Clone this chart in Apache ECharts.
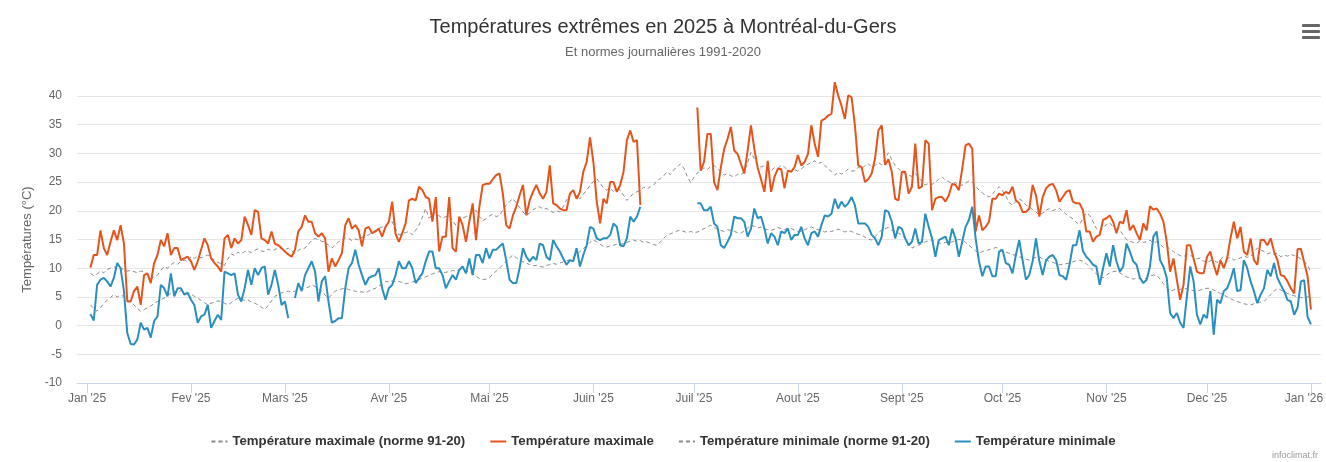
<!DOCTYPE html>
<html>
<head>
    <meta charset="utf-8">
    <title>Températures extrêmes 2025</title>
    <script src="https://cdn.jsdelivr.net/npm/echarts@6/dist/echarts.min.js"></script>
    <style>
        html, body { margin: 0; padding: 0; background: #fff; }
    </style>
</head>
<body>
<div id="main" style="width: 1326px;height:462px;"></div>
<script type="text/javascript">
    // daily values for 2025, one per day from 1 Jan to 31 Dec (null = no reading)
    var tmax = [
        10.1, 12.3, 12.3, 16.6, 13.5, 12.3, 14.6, 16.6, 14.9, 17.5, 14.3, 4.2, 4.2, 6.0, 6.8, 3.6, 8.8, 9.1, 7.4, 10.9, 12.3, 14.9, 13.8, 16.1, 12.3, 13.5, 13.5, 11.4, 11.7, 12.0, 11.2,
        9.7, 11.2, 13.2, 15.2, 14.0, 11.7, 10.9, 10.3, 9.4, 15.2, 15.8, 13.5, 15.2, 14.3, 14.9, 19.0, 17.5, 15.8, 20.1, 19.8, 15.2, 14.9, 14.3, 16.4, 14.3, 14.0, 13.5, 12.9,
        12.4, 12.0, 13.2, 16.4, 17.2, 19.2, 18.1, 18.1, 16.1, 15.5, 16.1, 15.2, 9.4, 11.7, 10.3, 11.4, 12.6, 17.5, 18.7, 16.9, 17.5, 16.6, 13.8, 16.9, 17.2, 16.1, 16.4, 16.9, 15.5, 17.2, 18.1,
        21.6, 16.0, 14.6, 16.1, 17.8, 21.8, 22.1, 21.8, 24.2, 23.6, 22.4, 22.1, 18.1, 22.4, 12.9, 15.5, 15.5, 22.4, 13.5, 12.9, 19.0, 17.5, 14.6, 18.1, 21.3, 14.9, 20.7, 24.5, 24.7, 24.7,
        25.5, 26.2, 26.5, 23.0, 17.5, 16.9, 19.2, 20.7, 22.7, 24.5, 19.2, 21.8, 23.3, 24.5, 23.0, 22.1, 23.3, 27.9, 21.3, 21.0, 20.4, 20.1, 20.1, 23.0, 23.6, 22.1, 23.3, 26.8, 28.5, 32.8, 28.5,
        21.6, 17.8, 22.1, 21.3, 25.0, 25.0, 23.3, 24.5, 26.8, 32.3, 34.0, 32.0, 32.3, 21.0, null, null, null, null, null, null, null, null, null, null, null, null, null, null, null, null,
        38.0, 27.0, 28.5, 33.4, 33.4, 25.0, 23.6, 27.5, 30.8, 32.5, 34.6, 30.5, 29.9, 28.2, 26.5, 30.5, 34.9, 30.8, 27.5, 25.5, 23.3, 28.7, 23.3, 25.9, 27.3, 27.3, 23.9, 27.0, 26.8, 27.6, 29.7,
        27.9, 28.5, 29.9, 34.9, 31.7, 29.4, 35.7, 36.0, 36.6, 36.9, 42.4, 40.1, 38.3, 36.0, 40.1, 39.8, 34.9, 27.9, 27.6, 25.0, 25.5, 26.5, 29.1, 34.0, 34.9, 28.0, 29.0, 26.8, 22.1, 21.8, 26.8,
        26.8, 23.0, 24.2, 31.7, 23.9, 24.2, 32.3, 31.7, 20.1, 22.1, 22.4, 22.4, 21.6, 22.7, 24.7, 24.5, 23.6, 27.3, 31.4, 31.7, 30.8, 16.4, 19.2, 16.6, 17.2, 18.1, 22.1, 22.1, 23.0, 22.7,
        23.3, 23.0, 24.2, 21.8, 21.3, 19.8, 19.8, 20.4, 24.5, 22.7, 19.0, 22.4, 23.9, 24.5, 24.7, 23.6, 21.6, 22.4, 23.3, 23.6, 21.6, 21.3, 21.3, 20.1, 16.4, 16.4, 14.6, 15.5, 15.8, 18.4, 18.7,
        19.2, 18.1, 16.1, 18.1, 17.8, 20.1, 16.6, 17.5, 16.1, 14.9, 17.8, 16.6, 20.8, 20.2, 20.4, 19.5, 18.1, 14.6, 9.4, 11.7, 8.0, 4.5, 7.1, 14.0, 14.0, 11.7, 9.4, 9.1, 9.1, 12.0,
        12.9, 10.6, 8.8, 11.4, 10.0, 11.7, 15.2, 18.1, 15.2, 17.2, 12.9, 12.3, 15.2, 11.4, 10.6, 14.9, 14.9, 14.0, 15.2, 12.9, 11.4, 8.8, 8.6, 7.7, 6.5, 5.6, 13.3, 13.4, 11.0, 8.6, 2.8
    ];
    var tmin = [
        2.0, 0.9, 7.1, 8.0, 8.3, 7.7, 6.8, 8.3, 10.9, 10.0, 6.0, -1.3, -3.2, -3.3, -2.4, 0.5, -0.7, -0.4, -2.1, 0.8, 1.6, 7.1, 6.5, 5.1, 9.1, 5.1, 6.5, 6.5, 5.4, 5.7, 4.5,
        3.6, 0.5, 1.6, 1.9, 3.6, -0.4, 0.8, 1.9, 1.0, 9.4, 9.1, 8.8, 9.1, 5.4, 4.2, 6.5, 9.7, 7.1, 10.0, 8.8, 10.0, 10.3, 5.4, 7.1, 9.7, 7.1, 3.6, 4.2,
        1.3, null, 4.8, 7.4, 6.0, 8.8, 10.0, 11.2, 9.4, 4.2, 7.7, 8.6, 4.2, 0.5, 0.8, 1.3, 1.3, 6.5, 10.0, 10.9, 13.2, 10.6, 8.8, 7.1, 8.3, 8.6, 8.8, 10.0, 6.5, 4.5, 6.5,
        7.1, 8.8, 11.2, 10.0, 10.0, 11.2, 10.0, 7.4, 8.3, 9.1, 11.2, 12.9, 12.9, 10.0, 10.0, 8.8, 6.5, 7.7, 8.8, 8.0, 9.7, 10.3, 9.1, 11.7, 8.8, 12.3, 12.3, 10.9, 13.5, 11.7,
        13.2, 13.2, 13.8, 14.3, 11.4, 8.0, 7.4, 7.4, 10.0, 13.5, 12.0, 11.2, 12.0, 11.4, 14.3, 14.0, 12.0, 11.4, 14.9, 13.8, 12.9, 11.7, 10.6, 11.4, 11.2, 13.5, 10.3, 12.3, 14.0, 17.2, 16.9,
        15.2, 14.9, 15.2, 15.2, 15.8, 17.8, 17.2, 14.0, 13.8, 15.2, 19.0, 18.1, 19.0, 20.7, null, null, null, null, null, null, null, null, null, null, null, null, null, null, null, null,
        21.3, 21.3, 20.1, 20.1, 20.7, 17.8, 17.2, 14.0, 13.5, 14.6, 15.8, 19.0, 18.7, 18.7, 18.1, 15.5, 16.9, 20.4, 18.7, 19.0, 16.9, 14.3, 16.1, 15.5, 14.0, 16.4, 16.1, 16.9, 14.9, 15.8, 15.8,
        17.2, 15.2, 14.0, 16.1, 16.4, 15.5, 17.5, 19.2, 19.0, 19.5, 22.1, 20.4, 21.6, 20.7, 21.3, 22.4, 21.0, 17.8, 17.8, 17.8, 17.2, 15.8, 15.2, 14.0, 15.5, 20.1, 19.8, 18.1, 15.2, 17.2, 16.9,
        15.2, 14.0, 14.6, 16.9, 14.3, 14.6, 19.5, 17.2, 15.2, 12.0, 14.9, 15.2, 15.5, 14.0, 16.9, 15.2, 12.0, 14.6, 17.2, 18.4, 20.7, 15.2, 11.2, 8.6, 10.3, 10.3, 8.6, 8.6, 12.9, 13.2,
        10.9, 10.6, 9.1, 12.3, 14.9, 11.4, 8.0, 8.8, 11.2, 15.2, 11.2, 8.8, 11.4, 12.0, 12.3, 11.4, 8.8, 8.6, 8.0, 10.6, 14.0, 14.0, 16.6, 13.0, 12.0, 11.4, 10.6, 10.3, 7.1, 10.0, 12.6,
        10.3, 14.0, 11.2, 9.4, 10.3, 14.3, 12.9, 11.2, 10.6, 8.3, 7.4, 8.0, 10.3, 15.5, 16.4, 11.4, 10.3, 8.3, 2.2, 1.3, 2.2, 0.5, -0.4, 5.1, 10.3, 7.7, 1.9, 0.2, 1.9, 1.3,
        6.0, -1.6, 4.5, 3.9, 6.0, 6.5, 8.0, 10.0, 6.0, 6.2, 11.4, 10.0, 7.7, 6.0, 3.9, 5.4, 6.5, 9.7, 8.6, 10.9, 8.3, 7.1, 6.0, 4.5, 4.2, 1.9, 3.1, 7.7, 7.9, 1.5, 0.2
    ];
    // daily normals 1991-2020
    var normMax = [
        9.1, 8.7, 9.0, 9.5, 9.2, 9.8, 10.0, 10.3, 9.9, 10.1, 9.7, 9.5, 9.6, 9.4, 9.2, 9.5, 9.4, 8.9, 8.2, 8.5, 8.8, 9.6, 10.3, 10.0, 10.6, 11.0, 10.7, 11.2, 11.4, 11.1, 12.0,
        11.7, 12.1, 11.8, 12.0, 12.3, 11.8, 11.4, 11.0, 10.8, 10.5, 11.6, 12.5, 12.2, 12.8, 12.5, 12.9, 13.0, 12.7, 13.1, 13.4, 13.0, 12.9, 13.3, 13.1, 13.2, 13.6, 13.4, 13.2,
        13.5, 13.0, 12.6, 13.1, 13.4, 13.5, 14.2, 14.8, 15.2, 14.9, 14.7, 14.6, 14.0, 13.5, 14.1, 14.6, 14.9, 15.3, 15.2, 14.8, 15.1, 14.9, 15.4, 15.6, 15.8, 16.2, 16.6, 16.9, 17.2, 17.5, 17.8,
        18.1, 16.9, 15.8, 16.0, 16.2, 16.4, 15.8, 16.6, 17.5, 18.9, 20.4, 18.7, 19.3, 19.8, 19.1, 18.7, 19.0, 19.2, 18.3, 17.5, 18.2, 18.7, 19.0, 19.2, 19.7, 20.1, 19.0, 18.3, 18.6, 19.1,
        19.4, 19.0, 19.2, 20.1, 21.0, 21.6, 22.1, 21.4, 20.6, 19.8, 19.2, 19.6, 20.2, 20.5, 20.7, 20.3, 20.4, 20.1, 19.7, 20.0, 19.8, 20.7, 21.9, 22.8, 23.3, 22.6, 22.1, 22.9, 23.6, 24.4, 25.1,
        25.6, 24.8, 24.0, 23.6, 23.9, 23.4, 23.8, 23.6, 22.7, 21.8, 22.4, 23.1, 23.3, 23.6, 24.1, 23.8, 24.2, 24.5, 25.3, 25.6, 26.1, 26.8, 26.3, 27.2, 27.6, 28.2, 27.4, 26.0, 24.9, 25.8,
        26.6, 27.0, 27.5, 27.2, 27.7, 27.9, 27.3, 26.8, 26.2, 26.5, 26.1, 25.9, 26.4, 26.3, 26.8, 28.4, 30.2, 29.1, 28.0, 27.6, 27.9, 27.3, 27.0, 27.5, 27.4, 27.9, 27.6, 27.1, 26.8, 27.2, 26.9,
        27.3, 27.8, 28.1, 28.4, 28.7, 28.2, 28.5, 27.9, 27.4, 26.8, 26.2, 26.7, 26.4, 26.8, 27.3, 26.9, 27.0, 27.6, 27.3, 27.9, 28.2, 27.6, 27.9, 28.4, 28.0, 29.1, 30.1, 28.9, 27.9, 27.3, 26.8,
        26.5, 26.2, 26.0, 26.5, 25.8, 25.1, 24.5, 24.8, 24.6, 25.0, 25.5, 25.9, 25.3, 25.1, 24.7, 24.9, 24.4, 24.5, 24.8, 25.2, 25.0, 24.3, 23.6, 23.1, 22.7, 22.4, 22.9, 23.6, 24.2, 23.5,
        22.6, 21.4, 21.0, 21.6, 22.1, 21.7, 21.0, 20.7, 20.2, 19.8, 19.2, 19.6, 20.1, 20.4, 20.0, 20.3, 20.4, 19.9, 19.4, 19.0, 18.6, 18.0, 17.6, 18.7, 19.6, 19.2, 18.1, 16.9, 16.4, 16.9, 17.6,
        17.9, 17.2, 16.8, 16.6, 15.8, 15.0, 14.7, 14.5, 14.3, 14.8, 14.5, 14.6, 14.9, 14.4, 14.6, 14.2, 13.6, 13.8, 13.3, 12.9, 12.5, 12.2, 12.0, 12.4, 12.2, 12.0, 11.6, 11.8, 11.2, 11.0,
        11.3, 11.4, 11.0, 11.5, 12.0, 11.7, 11.9, 11.4, 11.6, 11.8, 12.1, 11.9, 12.0, 12.8, 13.5, 13.2, 12.9, 12.5, 12.7, 12.4, 12.6, 12.0, 12.3, 12.1, 12.4, 12.2, 12.0, 11.6, 11.1, 10.6, 9.2
    ];
    var normMin = [
        3.6, 3.0, 2.5, 3.1, 3.9, 4.4, 4.9, 5.4, 5.0, 5.3, 5.1, 4.6, 4.1, 3.6, 3.0, 2.5, 2.8, 3.1, 3.4, 3.9, 4.2, 4.5, 4.8, 5.3, 5.6, 6.0, 5.7, 6.1, 6.0, 5.7, 5.5,
        5.1, 4.8, 4.4, 4.0, 3.6, 3.9, 4.1, 4.3, 4.2, 3.9, 3.6, 4.0, 4.4, 4.8, 4.6, 4.4, 4.5, 4.1, 3.9, 3.6, 3.2, 2.8, 3.5, 4.3, 5.1, 5.4, 5.7, 5.9,
        6.0, 5.8, 6.0, 6.2, 6.3, 6.5, 6.7, 7.1, 6.8, 6.4, 6.0, 5.3, 4.8, 5.4, 6.0, 6.2, 6.4, 6.5, 6.3, 6.1, 6.0, 5.8, 5.9, 5.7, 6.0, 6.3, 6.5, 6.9, 7.2, 7.7, 7.6,
        7.8, 7.6, 7.7, 7.5, 7.3, 7.4, 7.6, 7.8, 8.0, 8.3, 8.5, 8.8, 9.0, 9.2, 9.4, 9.1, 9.3, 9.4, 9.6, 9.5, 9.7, 9.8, 9.5, 9.4, 9.0, 8.6, 8.2, 8.0, 8.1, 8.4,
        8.9, 9.5, 10.0, 10.6, 11.2, 11.8, 12.3, 11.8, 11.4, 11.1, 10.9, 10.6, 10.4, 10.5, 10.3, 10.2, 10.5, 10.6, 10.8, 10.7, 10.9, 11.1, 11.3, 11.4, 11.9, 12.4, 12.9, 13.4, 13.9, 14.5, 14.9,
        14.6, 14.2, 13.8, 13.7, 13.9, 14.0, 14.2, 14.1, 14.3, 14.5, 14.7, 14.9, 14.7, 14.8, 14.5, 14.6, 14.3, 14.1, 14.0, 14.6, 15.2, 15.8, 16.0, 16.2, 16.5, 16.6, 16.4, 16.2, 16.4, 16.2,
        16.3, 16.6, 16.9, 17.2, 17.5, 17.1, 16.8, 16.6, 16.4, 16.7, 16.6, 16.4, 16.2, 16.1, 16.5, 17.0, 17.5, 17.3, 17.0, 17.2, 16.9, 16.7, 16.6, 16.8, 17.1, 16.9, 16.7, 17.0, 16.9, 16.6, 16.4,
        16.4, 16.7, 17.0, 17.2, 16.9, 16.7, 16.6, 16.3, 16.5, 16.4, 16.6, 16.8, 16.6, 16.3, 16.5, 16.4, 16.1, 15.9, 15.8, 15.4, 15.1, 14.9, 15.5, 16.1, 16.7, 16.9, 17.1, 16.6, 16.4, 16.1, 15.8,
        15.1, 14.2, 13.5, 13.8, 14.0, 14.3, 14.6, 14.8, 14.9, 14.6, 14.4, 14.3, 14.5, 14.4, 14.6, 14.8, 15.0, 14.9, 14.5, 14.0, 13.5, 13.0, 12.6, 12.9, 13.1, 13.2, 13.4, 13.6, 13.5, 13.0,
        12.8, 12.6, 12.4, 12.2, 12.0, 11.8, 11.6, 11.4, 11.7, 11.9, 12.0, 11.6, 11.4, 11.2, 11.0, 10.8, 10.6, 10.7, 10.8, 10.9, 11.1, 11.3, 11.4, 11.2, 10.8, 10.2, 9.6, 9.0, 8.6, 8.3, 8.8,
        9.2, 9.4, 9.5, 9.2, 8.8, 8.5, 8.3, 8.1, 8.3, 8.2, 8.0, 8.3, 8.6, 8.8, 8.8, 8.1, 7.3, 6.6, 6.0, 6.2, 6.4, 6.3, 6.5, 6.4, 6.2, 6.1, 6.0, 6.2, 6.4, 6.5,
        6.5, 6.2, 5.9, 5.6, 5.4, 5.0, 4.7, 4.4, 4.2, 4.0, 3.8, 3.7, 3.6, 3.8, 4.0, 4.1, 4.2, 4.8, 5.4, 6.0, 6.5, 6.2, 5.9, 5.6, 5.4, 5.2, 5.0, 4.9, 4.8, 5.0, 5.1
    ];
    var seriesNames = [
        'Température maximale (norme 91-20)',
        'Température maximale',
        'Température minimale (norme 91-20)',
        'Température minimale'
    ];
    var monthNames = ['Jan', 'Fev', 'Mars', 'Avr', 'Mai', 'Juin', 'Juil', 'Aout', 'Sept', 'Oct', 'Nov', 'Dec'];

    var DAY = 86400000;
    function isoDay(t) {
        return new Date(t).toISOString().slice(0, 10);
    }
    // the axis runs a few days past each end, like the source chart
    var days = [];
    for (var t = Date.UTC(2024, 11, 29); t <= Date.UTC(2026, 0, 4); t += DAY) {
        days.push(isoDay(t));
    }
    // each reading is stamped the following morning on the source chart
    var firstStamp = Date.UTC(2025, 0, 2);
    function toPairs(values) {
        return values.map(function (v, i) {
            return [isoDay(firstStamp + i * DAY), v];
        });
    }
    function isMonthStart(index, value) {
        return value.slice(8) === '01';
    }
    function monthLabel(value) {
        var text = monthNames[+value.slice(5, 7) - 1] + " '" + value.slice(2, 4);
        // last label is pulled back inside the chart
        return value === '2026-01-01' ? '{last|' + text + '}' : text;
    }

    var myChart = echarts.init(document.getElementById('main'));
    var dashed = { color: '#8a8a8a', width: 1, type: [4, 3] };

    myChart.setOption({
        animation: false,
        textStyle: { fontFamily: '"Liberation Sans", Arial, Helvetica, sans-serif' },
        title: {
            text: 'Températures extrêmes en 2025 à Montréal-du-Gers',
            subtext: 'Et normes journalières 1991-2020',
            left: 'center',
            top: 12,
            itemGap: 9,
            textStyle: { fontSize: 20, fontWeight: 'normal', color: '#333' },
            subtextStyle: { fontSize: 13, color: '#666' }
        },
        legend: {
            data: seriesNames,
            left: 'center',
            top: 430,
            itemWidth: 16,
            itemHeight: 12,
            itemGap: 24,
            // hide the marker dot, keep only the line sample
            itemStyle: { opacity: 0 },
            textStyle: { fontSize: 13.2, fontWeight: 'bold', color: '#333' }
        },
        grid: { left: 77, right: 5, top: 96, bottom: 79, outerBoundsMode: 'none' },
        xAxis: {
            type: 'category',
            data: days,
            boundaryGap: false,
            axisLine: { onZero: false, lineStyle: { color: '#ccd6eb' } },
            axisTick: { interval: isMonthStart, length: 10, lineStyle: { color: '#ccd6eb' } },
            axisLabel: {
                interval: isMonthStart,
                formatter: monthLabel,
                color: '#666',
                fontSize: 12,
                margin: 10,
                rich: { last: { color: '#666', fontSize: 12, padding: [0, 14, 0, 0] } }
            },
            splitLine: { show: false }
        },
        yAxis: {
            type: 'value',
            min: -10,
            max: 40,
            interval: 5,
            name: 'Températures (°C)',
            nameLocation: 'middle',
            nameGap: 42,
            nameTextStyle: { color: '#666', fontSize: 13 },
            axisLabel: { color: '#666', fontSize: 12, margin: 15 },
            axisLine: { show: false },
            axisTick: { show: false },
            splitLine: { lineStyle: { color: '#e6e6e6' } }
        },
        series: [
            { name: seriesNames[0], type: 'line', symbol: 'none', clip: false, lineStyle: dashed, itemStyle: { color: '#8a8a8a' }, data: toPairs(normMax) },
            { name: seriesNames[1], type: 'line', symbol: 'none', clip: false, lineStyle: { color: '#e5541c', width: 2 }, itemStyle: { color: '#e5541c' }, data: toPairs(tmax) },
            { name: seriesNames[2], type: 'line', symbol: 'none', clip: false, lineStyle: dashed, itemStyle: { color: '#8a8a8a' }, data: toPairs(normMin) },
            { name: seriesNames[3], type: 'line', symbol: 'none', clip: false, lineStyle: { color: '#2b8fbd', width: 2 }, itemStyle: { color: '#2b8fbd' }, data: toPairs(tmin) }
        ],
        graphic: [
            {
                type: 'group',
                right: 6,
                top: 24,
                children: [
                    { type: 'rect', shape: { x: 0, y: 0, width: 18, height: 3, r: 1 }, style: { fill: '#666' } },
                    { type: 'rect', shape: { x: 0, y: 6, width: 18, height: 3, r: 1 }, style: { fill: '#666' } },
                    { type: 'rect', shape: { x: 0, y: 12, width: 18, height: 3, r: 1 }, style: { fill: '#666' } }
                ]
            },
            {
                type: 'text',
                right: 8,
                bottom: 2,
                style: { text: 'infoclimat.fr', fill: '#999', fontSize: 9, fontFamily: '"Liberation Sans", Arial, sans-serif' }
            }
        ]
    });
</script>
</body>
</html>
